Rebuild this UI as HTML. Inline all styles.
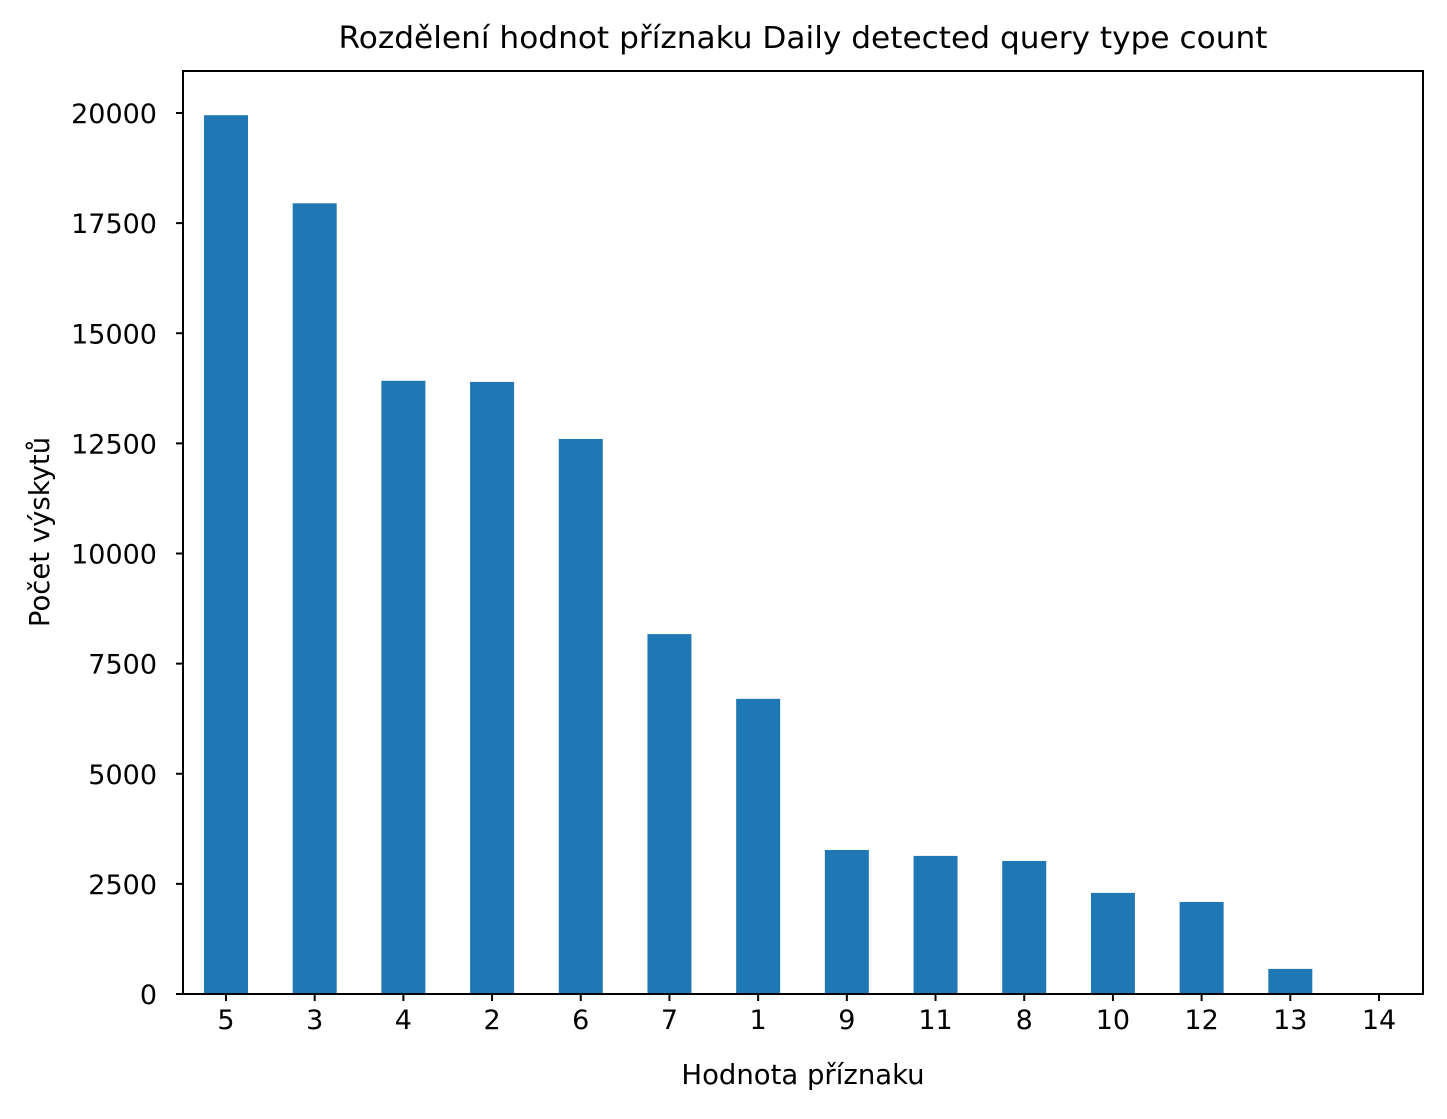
<!DOCTYPE html>
<html><head><meta charset="utf-8"><style>
body{margin:0;background:#fff;}
svg text{font-family:"DejaVu Sans","Liberation Sans",sans-serif;fill:#000;}
</style></head><body>
<svg width="1447" height="1114" xmlns="http://www.w3.org/2000/svg">
<rect width="1447" height="1114" fill="#fff"/>
<g id="plot"></g>
<text x="803" y="48" font-size="30" textLength="929" lengthAdjust="spacingAndGlyphs" text-anchor="middle">Rozdělení hodnot příznaku Daily detected query type count</text>
<text x="803" y="1084" font-size="27.5" text-anchor="middle">Hodnota příznaku</text>
<text x="0" y="0" font-size="27.5" text-anchor="middle" transform="translate(49,532) rotate(-90)">Počet výskytů</text>
</svg>
<script>
const categories=["5","3","4","2","6","7","1","9","11","8","10","12","13","14"];
const counts=[19950,17950,13920,13895,12600,8170,6700,3270,3135,3020,2295,2090,570,10];
const yTicks=[0,2500,5000,7500,10000,12500,15000,17500,20000];
const L=183,R=1423,T=71,B=994;
const NS="http://www.w3.org/2000/svg";
const g=document.getElementById('plot');
function y(v){return B-v*(B-113)/20000;}
function x(i){return 226+i*(1379-226)/13;}
function mk(t,a){const e=document.createElementNS(NS,t);for(const k in a)e.setAttribute(k,a[k]);g.appendChild(e);return e;}
counts.forEach((v,i)=>{
 const r=mk('rect',{x:x(i)-22,y:y(v),width:44,height:B-y(v),fill:'#1f77b4'});
 
 
});
categories.forEach((c,i)=>{
 const l=mk('line',{x1:x(i),x2:x(i),y1:B,y2:B+7,stroke:'#000','stroke-width':2});
 
 
 const t=mk('text',{x:x(i),y:B+35,'font-size':27,'text-anchor':'middle'});
 t.textContent=c;
 
 
});
yTicks.forEach(v=>{
 const l=mk('line',{x1:L-7,x2:L,y1:y(v),y2:y(v),stroke:'#000','stroke-width':2});
 
 
 const t=mk('text',{x:L-26,y:y(v)+10,'font-size':27,'text-anchor':'end'});
 t.textContent=v;
 
 
});
const f=mk('rect',{x:L,y:T,width:R-L,height:B-T,fill:'none',stroke:'#000','stroke-width':2});


</script>
</body></html>
